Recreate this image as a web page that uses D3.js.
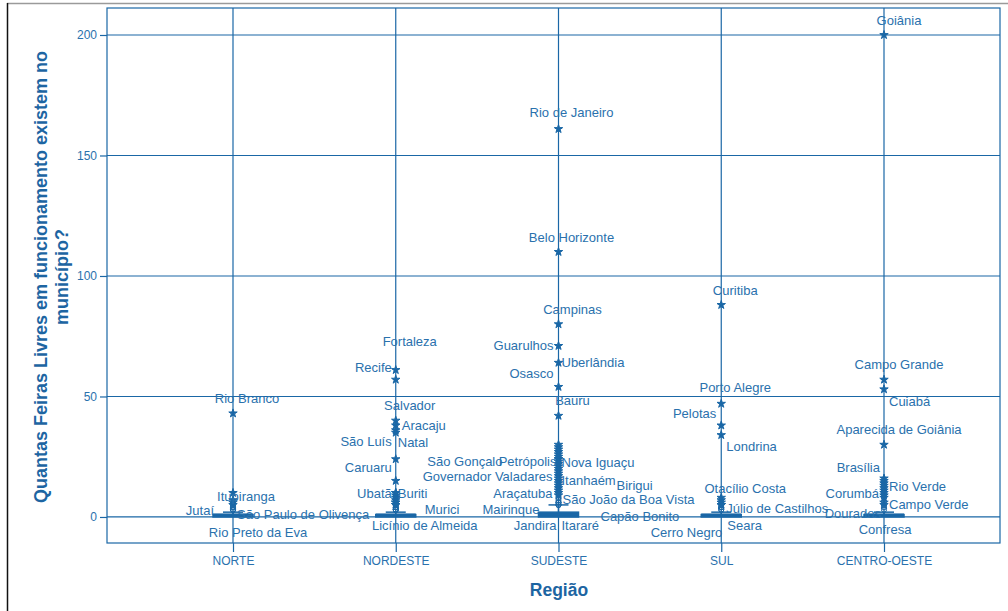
<!DOCTYPE html>
<html>
<head>
<meta charset="utf-8">
<script src="https://cdn.jsdelivr.net/npm/d3@7/dist/d3.min.js"></script>
<style>
  html, body { margin: 0; padding: 0; background: #fff; }
  svg { display: block; }
</style>
</head>
<body>
<svg id="chart" width="1008" height="611"></svg>
<script>
// ---- data -------------------------------------------------------------
const regions = ["NORTE", "NORDESTE", "SUDESTE", "SUL", "CENTRO-OESTE"];
const yTicks = [0, 50, 100, 150, 200];

// five-number summary per region
const boxQ1 = [0, 0, 0, 0, 0];
const boxMedian = [1, 1, 1, 1, 1];
const boxQ3 = [1, 1, 2, 1, 1];
const whiskerLow = [0, 0, 0, 0, 0];
const whiskerHigh = [2, 2, 5, 2, 2];

// labelled municipalities: [region, municipality, feiras]
const namedPoints = [
  ["NORTE", "Rio Branco", 43],
  ["NORTE", "Itupiranga", 5],
  ["NORTE", "Jutaí", 3],
  ["NORTE", "São Paulo de Olivença", 3],
  ["NORTE", "Rio Preto da Eva", 4],
  ["NORDESTE", "Fortaleza", 61],
  ["NORDESTE", "Recife", 57],
  ["NORDESTE", "Salvador", 40],
  ["NORDESTE", "Aracaju", 38],
  ["NORDESTE", "São Luís", 36],
  ["NORDESTE", "Natal", 35],
  ["NORDESTE", "Caruaru", 24],
  ["NORDESTE", "Ubatã", 10],
  ["NORDESTE", "Buriti", 10],
  ["NORDESTE", "Murici", 3],
  ["NORDESTE", "Licínio de Almeida", 3],
  ["SUDESTE", "Rio de Janeiro", 161],
  ["SUDESTE", "Belo Horizonte", 110],
  ["SUDESTE", "Campinas", 80],
  ["SUDESTE", "Guarulhos", 71],
  ["SUDESTE", "Uberlândia", 64],
  ["SUDESTE", "Osasco", 54],
  ["SUDESTE", "Bauru", 42],
  ["SUDESTE", "São Gonçalo", 24],
  ["SUDESTE", "Petrópolis", 24],
  ["SUDESTE", "Nova Iguaçu", 23],
  ["SUDESTE", "Governador Valadares", 18],
  ["SUDESTE", "Itanhaém", 17],
  ["SUDESTE", "Birigui", 16],
  ["SUDESTE", "Araçatuba", 10],
  ["SUDESTE", "São João da Boa Vista", 8],
  ["SUDESTE", "Mairinque", 6],
  ["SUDESTE", "Capão Bonito", 5],
  ["SUDESTE", "Jandira", 5],
  ["SUDESTE", "Itararé", 5],
  ["SUL", "Curitiba", 88],
  ["SUL", "Porto Alegre", 47],
  ["SUL", "Pelotas", 38],
  ["SUL", "Londrina", 34],
  ["SUL", "Otacílio Costa", 8],
  ["SUL", "Júlio de Castilhos", 4],
  ["SUL", "Seara", 3],
  ["SUL", "Cerro Negro", 3],
  ["CENTRO-OESTE", "Goiânia", 200],
  ["CENTRO-OESTE", "Campo Grande", 57],
  ["CENTRO-OESTE", "Cuiabá", 53],
  ["CENTRO-OESTE", "Aparecida de Goiânia", 30],
  ["CENTRO-OESTE", "Brasília", 16],
  ["CENTRO-OESTE", "Rio Verde", 13],
  ["CENTRO-OESTE", "Corumbá", 11],
  ["CENTRO-OESTE", "Campo Verde", 8],
  ["CENTRO-OESTE", "Dourados", 4],
  ["CENTRO-OESTE", "Confresa", 3]
];

// further outlying municipalities without a label
const otherNorte = [10, 7, 6, 4, 3];
const otherNordeste = [15, 9, 8, 7, 6, 6, 5, 5, 4, 4, 3, 3];
const otherSudeste = [30, 29, 28, 27, 26, 25, 22, 21, 20, 19, 15, 14, 13, 12, 11, 9, 7, 6, 6];
const otherSul = [7, 6, 5, 5, 4];
const otherCentroOeste = [15, 14, 12, 10, 9, 6, 5];

// ---- label layout: [anchor, dx, dy] relative to the marker -------------
const labelPlacement = {
  "Rio Branco": ["middle", 14, -15],
  "Itupiranga": ["middle", 13, -8],
  "Jutaí": ["end", -19, 1],
  "São Paulo de Olivença": ["start", 4, 5],
  "Rio Preto da Eva": ["middle", 25, 25],
  "Fortaleza": ["middle", 14, -28],
  "Recife": ["end", -4, -12],
  "Salvador": ["middle", 14, -15],
  "Aracaju": ["start", 6, 0],
  "São Luís": ["end", -4, 11],
  "Natal": ["start", 2, 10],
  "Caruaru": ["end", -4, 8],
  "Ubatã": ["end", -4, 1],
  "Buriti": ["start", 2, 1],
  "Murici": ["start", 29, 0],
  "Licínio de Almeida": ["middle", 29, 16],
  "Rio de Janeiro": ["middle", 13, -16],
  "Belo Horizonte": ["middle", 13, -14],
  "Campinas": ["middle", 14, -15],
  "Guarulhos": ["end", -5, 0],
  "Uberlândia": ["start", 3, 0],
  "Osasco": ["end", -5, -13],
  "Bauru": ["middle", 14, -15],
  "São Gonçalo": ["end", -56, 2],
  "Petrópolis": ["end", -2, 2],
  "Nova Iguaçu": ["start", 3, 1],
  "Governador Valadares": ["end", -6, 3],
  "Itanhaém": ["start", 3, 4],
  "Birigui": ["start", 58, 7],
  "Araçatuba": ["end", -6, 1],
  "São João da Boa Vista": ["start", 4, 2],
  "Mairinque": ["end", -19, 7],
  "Capão Bonito": ["start", 42, 12],
  "Jandira": ["end", -2, 21],
  "Itararé": ["start", 3, 21],
  "Curitiba": ["middle", 14, -14],
  "Porto Alegre": ["middle", 14, -16],
  "Pelotas": ["end", -5, -12],
  "Londrina": ["start", 5, 11],
  "Otacílio Costa": ["middle", 24, -9],
  "Júlio de Castilhos": ["start", 5, 1],
  "Seara": ["start", 6, 16],
  "Cerro Negro": ["end", 1, 23],
  "Goiânia": ["middle", 15, -14],
  "Campo Grande": ["middle", 15, -15],
  "Cuiabá": ["start", 5, 12],
  "Aparecida de Goiânia": ["middle", 15, -15],
  "Brasília": ["end", -4, -11],
  "Rio Verde": ["start", 5, 1],
  "Corumbá": ["end", -5, 3],
  "Campo Verde": ["start", 5, 7],
  "Dourados": ["end", -3, 6],
  "Confresa": ["middle", 1, 20]
};

// ---- drawing ----------------------------------------------------------
const lineColor = "#1a67a6";
const textColor = "#2a71ad";
const titleColor = "#1d65a2";
const font = "'Liberation Sans', Arial, sans-serif";

const svg = d3.select("#chart");
const frame = { left: 107, right: 1000, top: 8, bottom: 543 };

const x = d3.scalePoint().domain(regions).range([233, 884]);
const y = d3.scaleLinear().domain([-10.8, 211.2]).range([frame.bottom, frame.top]);

// window border
svg.append("line").attr("x1", 7).attr("x2", 1008).attr("y1", 3.5).attr("y2", 3.5)
  .attr("stroke", "#9a9a9a").attr("stroke-width", 1.5);
svg.append("line").attr("x1", 7.5).attr("x2", 7.5).attr("y1", 3).attr("y2", 611)
  .attr("stroke", "#111").attr("stroke-width", 1.5);

// horizontal grid
svg.append("g").selectAll("line").data(yTicks).join("line")
  .attr("x1", frame.left).attr("x2", frame.right)
  .attr("y1", d => y(d)).attr("y2", d => y(d))
  .attr("stroke", lineColor).attr("stroke-width", 1.2);

// vertical category lines
svg.append("g").selectAll("line").data(regions).join("line")
  .attr("x1", d => x(d)).attr("x2", d => x(d))
  .attr("y1", frame.top).attr("y2", frame.bottom)
  .attr("stroke", lineColor).attr("stroke-width", 1.2);

// frame
svg.append("rect")
  .attr("x", frame.left).attr("y", frame.top)
  .attr("width", frame.right - frame.left).attr("height", frame.bottom - frame.top)
  .attr("fill", "none").attr("stroke", lineColor).attr("stroke-width", 1.2);

// y axis
const yAxis = svg.append("g").attr("transform", `translate(${frame.left},0)`)
  .call(d3.axisLeft(y).tickValues(yTicks).tickSize(7).tickPadding(3));
yAxis.select(".domain").remove();
yAxis.selectAll("line").attr("stroke", lineColor).attr("stroke-width", 1.2);
yAxis.selectAll("text").attr("fill", textColor).style("font-family", font).style("font-size", "12px");

// x axis
const xAxis = svg.append("g").attr("transform", `translate(0,${frame.bottom})`)
  .call(d3.axisBottom(x).tickSize(9).tickPadding(4));
xAxis.select(".domain").remove();
xAxis.selectAll("line").attr("stroke", lineColor).attr("stroke-width", 1.2);
xAxis.selectAll("text").attr("fill", textColor).style("font-family", font).style("font-size", "12px");

// boxes and whiskers
const boxW = 40;
const boxes = svg.append("g");
regions.forEach((r, i) => {
  const cx = x(r);
  boxes.append("line").attr("x1", cx).attr("x2", cx)
    .attr("y1", y(whiskerLow[i])).attr("y2", y(whiskerHigh[i]))
    .attr("stroke", lineColor).attr("stroke-width", 1.5);
  boxes.append("line").attr("x1", cx - boxW / 4).attr("x2", cx + boxW / 4)
    .attr("y1", y(whiskerHigh[i])).attr("y2", y(whiskerHigh[i]))
    .attr("stroke", lineColor).attr("stroke-width", 1.5);
  boxes.append("rect")
    .attr("x", cx - boxW / 2).attr("y", y(boxQ3[i]))
    .attr("width", boxW).attr("height", y(boxQ1[i]) - y(boxQ3[i]))
    .attr("fill", lineColor).attr("stroke", lineColor).attr("stroke-width", 1.5);
  boxes.append("line").attr("x1", cx - boxW / 2).attr("x2", cx + boxW / 2)
    .attr("y1", y(boxMedian[i])).attr("y2", y(boxMedian[i]))
    .attr("stroke", lineColor).attr("stroke-width", 2);
});

// all outliers
const otherByRegion = [otherNorte, otherNordeste, otherSudeste, otherSul, otherCentroOeste];
const points = [];
regions.forEach((r, i) => otherByRegion[i].forEach(v => points.push({ region: r, value: v, idx: i })));
namedPoints.forEach(([r, name, v]) => points.push({ region: r, name, value: v, idx: regions.indexOf(r) }));

const isExtreme = d => d.value > boxQ3[d.idx] + 3 * (boxQ3[d.idx] - boxQ1[d.idx]);
const star = d3.symbol().type(d3.symbolStar).size(22);
const circle = d3.symbol().type(d3.symbolCircle).size(20);
svg.append("g").selectAll("path").data(points).join("path")
  .attr("transform", d => `translate(${x(d.region)},${y(d.value)})`)
  .attr("d", d => isExtreme(d) ? star() : circle())
  .attr("fill", d => isExtreme(d) ? lineColor : "none")
  .attr("stroke", lineColor).attr("stroke-width", 1);

// municipality labels
svg.append("g").selectAll("text").data(points.filter(d => d.name)).join("text")
  .attr("x", d => x(d.region) + labelPlacement[d.name][1])
  .attr("y", d => y(d.value) + labelPlacement[d.name][2])
  .attr("text-anchor", d => labelPlacement[d.name][0])
  .attr("dominant-baseline", "central")
  .attr("fill", textColor)
  .style("font-family", font).style("font-size", "13px")
  .text(d => d.name);

// axis titles
svg.append("text")
  .attr("transform", "translate(41,277) rotate(-90)")
  .attr("text-anchor", "middle").attr("dominant-baseline", "central")
  .attr("fill", titleColor).style("font-family", font)
  .style("font-size", "18px").style("font-weight", "bold")
  .text("Quantas Feiras Livres em funcionamento existem no");
svg.append("text")
  .attr("transform", "translate(62,277) rotate(-90)")
  .attr("text-anchor", "middle").attr("dominant-baseline", "central")
  .attr("fill", titleColor).style("font-family", font)
  .style("font-size", "18px").style("font-weight", "bold")
  .text("município?");
svg.append("text")
  .attr("x", 559).attr("y", 590)
  .attr("text-anchor", "middle").attr("dominant-baseline", "central")
  .attr("fill", titleColor).style("font-family", font)
  .style("font-size", "17.5px").style("font-weight", "bold")
  .text("Região");
</script>
</body>
</html>
